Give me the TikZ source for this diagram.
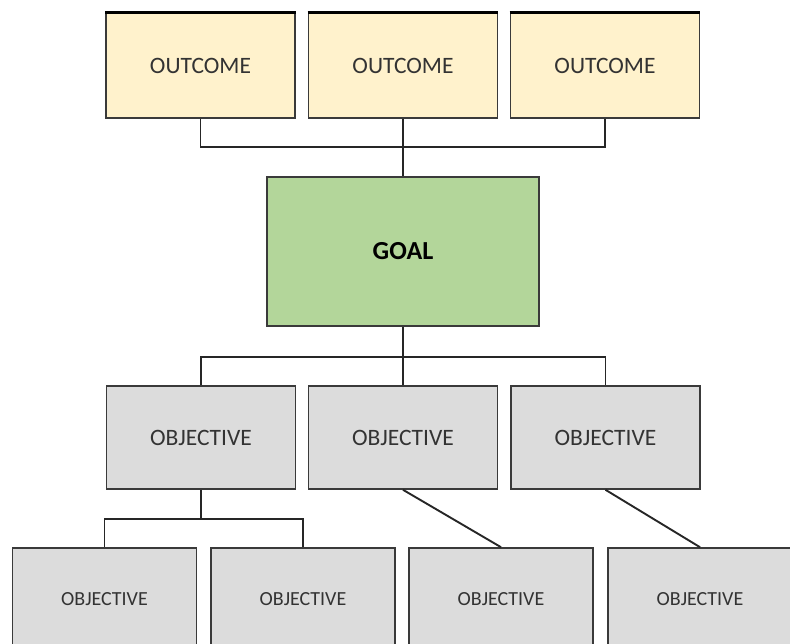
\documentclass[tikz,border=0pt]{standalone}
\usepackage{fontspec}
\setmainfont{Carlito}
\definecolor{outfill}{HTML}{FFF2CC}
\definecolor{goalfill}{HTML}{B3D69A}
\definecolor{objfill}{HTML}{DCDCDC}
\definecolor{edge}{HTML}{3A3A3A}
\definecolor{ink}{HTML}{333333}
\tikzset{
  box/.style={draw=edge, line width=1.6pt, inner sep=0pt, text=ink},
  outcomebox/.style={box, fill=outfill, minimum width=189pt, minimum height=105pt, font=\fontsize{23.5}{26}\selectfont},
  goalbox/.style={box, fill=goalfill, minimum width=272pt, minimum height=149pt, text=black, font=\fontsize{26}{30}\selectfont\bfseries},
  objbox/.style={box, fill=objfill, minimum width=189pt, minimum height=103pt, font=\fontsize{23.5}{26}\selectfont},
  subbox/.style={box, fill=objfill, minimum width=184pt, minimum height=102pt, font=\fontsize{20}{24}\selectfont},
  link/.style={draw=black!85, line width=1.9pt},
}
\begin{document}
\begin{tikzpicture}[x=1pt, y=-1pt]
\useasboundingbox (0,0) rectangle (790,644);
\clip (0,0) rectangle (790,644);

% outcomes
\node[outcomebox] (o1) at (200.5,65.5) {OUTCOME};
\node[outcomebox] (o2) at (403,65.5) {OUTCOME};
\node[outcomebox] (o3) at (605,65.5) {OUTCOME};
\foreach \n in {o1,o2,o3}
  \draw[black, line width=3pt] (\n.north west) -- (\n.north east);

% goal
\node[goalbox] (goal) at (403,251.5) {GOAL};

% objectives
\node[objbox] (j1) at (201,437.5) {OBJECTIVE};
\node[objbox] (j2) at (403,437.5) {OBJECTIVE};
\node[objbox] (j3) at (605.5,437.5) {OBJECTIVE};

% sub-objectives
\node[subbox] (k1) at (104.5,599) {OBJECTIVE};
\node[subbox] (k2) at (303,599) {OBJECTIVE};
\node[subbox] (k3) at (501,599) {OBJECTIVE};
\node[subbox] (k4) at (700,599) {OBJECTIVE};

% bus lines
\coordinate (bus1) at (0,147);
\coordinate (bus2) at (0,357);
\coordinate (bus3) at (0,519);

\draw[link] (o1.south) -- (o1.south |- bus1) -| (o3.south);
\draw[link] (o2.south) -- (goal.north);

\draw[link] (goal.south) -- (j2.north);
\draw[link] (j1.north) -- (j1.north |- bus2) -| (j3.north);

\draw[link] (j1.south) -- (j1.south |- bus3);
\draw[link] (k1.north) -- (k1.north |- bus3) -| (k2.north);

\draw[link] (j2.south) -- (k3.north);
\draw[link] (j3.south) -- (k4.north);
\end{tikzpicture}
\end{document}
